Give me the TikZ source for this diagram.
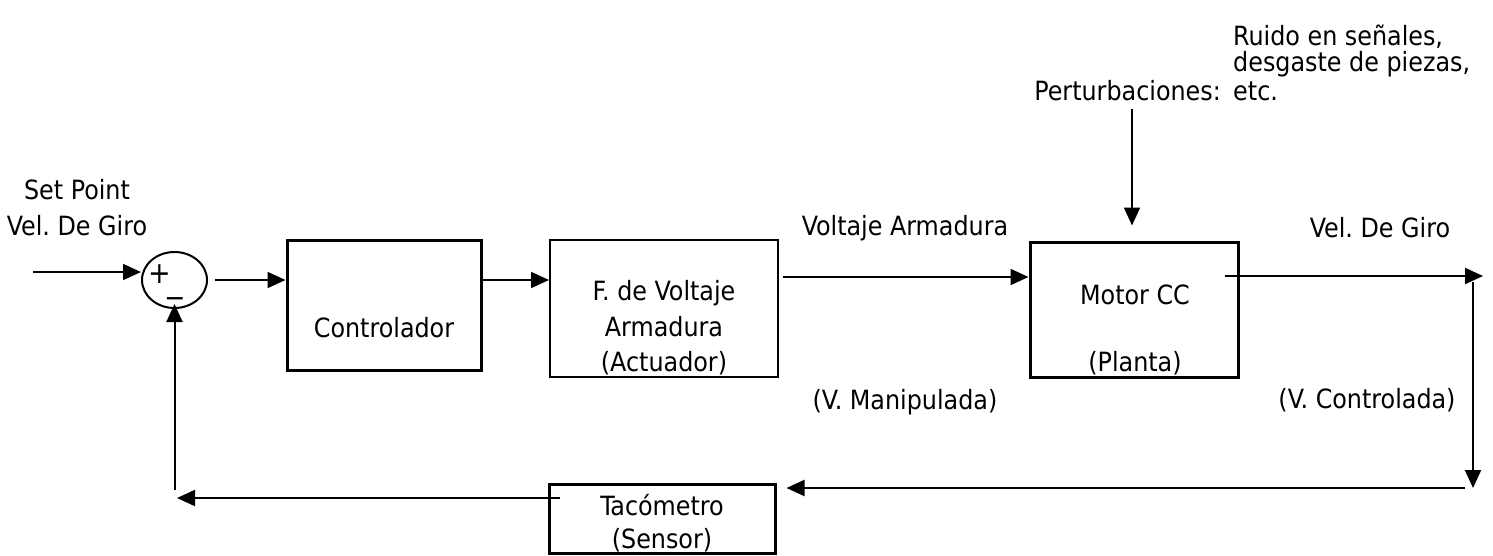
\documentclass[tikz,border=0pt]{standalone}
\usepackage{fontspec}
\setmainfont{DejaVu Sans Condensed}
\usetikzlibrary{arrows.meta,shapes.geometric}
\frenchspacing
\begin{document}
\frenchspacing
\begin{tikzpicture}[x=1pt,y=-1pt,
  lbl/.style={font=\fontsize{26.5}{30}\selectfont, inner sep=0pt},
  blk/.style={draw, line width=3pt, inner sep=0pt},
  arr/.style={line width=2pt, -{Triangle[length=18pt,width=16pt]}}]
\useasboundingbox (0,0) rectangle (1493,555);

% blocks
\node[draw, ellipse, line width=2pt, minimum width=65pt, minimum height=56pt, inner sep=0pt] (sum) at (174.5,280) {};
\node[blk, minimum width=194pt, minimum height=130pt] (ctrl) at (384,305) {};
\node[blk, line width=2pt, minimum width=228pt, minimum height=137pt] (act) at (664,308.5) {};
\node[blk, minimum width=208pt, minimum height=135pt] (motor) at (1134,309.5) {};
\node[blk, minimum width=226pt, minimum height=69pt] (taco) at (662,518.5) {};

% texts
\node[lbl] (sp1) at (77,190) {Set Point};
\node[lbl] (sp2) at (77,226) {Vel. De Giro};
\node[lbl, font=\fontsize{30}{34}\selectfont] (plus) at (160,274) {+};
\node[lbl, font=\fontsize{28}{32}\selectfont] (minus) at (175,303) {−};
\node[lbl] (ctrlt) at (384,328) {Controlador};
\node[lbl] (act1) at (664,293) {F. de Voltaje};
\node[lbl] (act2) at (664,327) {Armadura};
\node[lbl] (act3) at (664,363) {(Actuador)};
\node[lbl] (volt) at (905,228) {Voltaje Armadura};
\node[lbl] (manip) at (905,402) {(V. Manipulada)};
\node[lbl] (mot1) at (1135,295) {Motor CC};
\node[lbl] (mot2) at (1135,363) {(Planta)};
\node[lbl, anchor=east] (pert) at (1221,91) {Perturbaciones:};
\node[lbl, anchor=west] (r1) at (1233,37) {Ruido en señales,};
\node[lbl, anchor=west] (r2) at (1233,64) {desgaste de piezas,};
\node[lbl, anchor=west] (r3) at (1233,91) {etc.};
\node[lbl] (velg) at (1380,228) {Vel. De Giro};
\node[lbl] (vctrl) at (1367,400) {(V. Controlada)};
\node[lbl] (taco1) at (662,505) {Tacómetro};
\node[lbl] (taco2) at (662,540) {(Sensor)};

% connectors
\coordinate (in) at (33,272);
\draw[arr] (in) -- (in -| sum.west);
\draw[arr, shorten <=7pt] (sum.east) -- (sum.east -| ctrl.west);
\draw[arr] ([yshift=25pt]ctrl.east) -- ([yshift=25pt]ctrl.east -| act.west);
\draw[arr, shorten <=4pt] ([yshift=31.5pt]act.east) -- ([yshift=31.5pt]act.east -| motor.west);
\coordinate (pt) at (1132,109);
\draw[arr, shorten >=15pt] (pt) -- (pt |- motor.north);
\coordinate (out) at (1483,276);
\draw[arr] ([xshift=-15pt,yshift=33.5pt]motor.east) -- (out);
\coordinate (rt) at (1473,282);
\coordinate (rb) at (1473,488);
\draw[arr] (rt) -- (rb);
\draw[arr, shorten >=10pt] ([xshift=-8pt]rb) -- (rb -| taco.east);
\coordinate (fb) at (177,498);
\draw[arr] ([xshift=12pt]taco.west |- fb) -- (fb);
\coordinate (fv) at (174.5,490);
\draw[arr, shorten >=-5pt] (fv) -- (sum.south);
\end{tikzpicture}
\end{document}
